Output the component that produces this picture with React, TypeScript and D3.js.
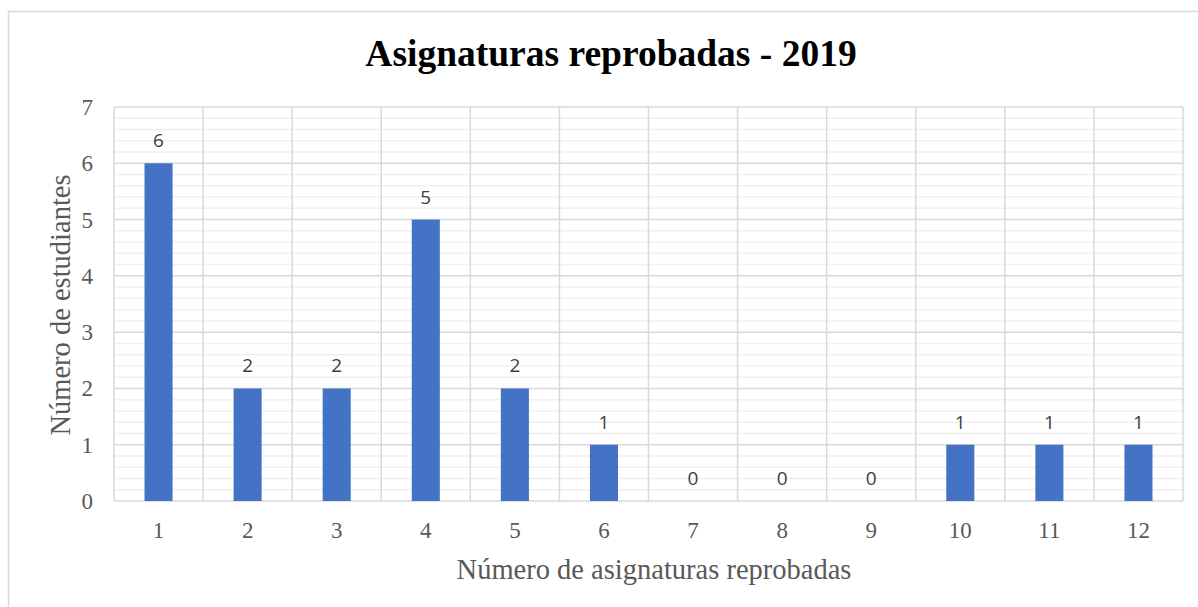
import React from "react";
import * as d3 from "d3";

const categories = ["1", "2", "3", "4", "5", "6", "7", "8", "9", "10", "11", "12"];
const values = [6, 2, 2, 5, 2, 1, 0, 0, 0, 1, 1, 1];
const yTicks = [0, 1, 2, 3, 4, 5, 6, 7];
const title = "Asignaturas reprobadas - 2019";
const xTitle = "Número de asignaturas reprobadas";
const yTitle = "Número de estudiantes";

export default function App() {
  const W = 1198, H = 607;
  const left = 114, right = 1183, top = 107, bottom = 501;
  const x = d3.scaleBand<string>().domain(categories).range([left, right]).paddingInner(0.685).paddingOuter(0.3425);
  const xOuter = d3.scaleBand<string>().domain(categories).range([left, right]);
  const y = d3.scaleLinear().domain([0, 7]).range([bottom, top]);
  const minor = d3.range(0, 7.001, 0.2).filter((v) => Math.abs(v - Math.round(v)) > 1e-6);
  const serif = "'Liberation Serif', 'Times New Roman', serif";
  const sans = "'Open Sans', 'Liberation Sans', sans-serif";
  return (
    <svg width={W} height={H} style={{ position: "absolute", left: 0, top: 0, background: "#fff" }}>
      <rect x={8.5} y={11.5} width={W + 10} height={H + 10} fill="#fff" stroke="#d9d9d9" strokeWidth={1.5} />
      <text x={611} y={66} textAnchor="middle" fontFamily={serif} fontWeight="bold" fontSize={37.5} fill="#000">{title}</text>
      {minor.map((v) => (
        <line key={"m" + v} x1={left} x2={right} y1={y(v)} y2={y(v)} stroke="#f0f0f0" strokeWidth={1.5} />
      ))}
      {yTicks.map((v) => (
        <line key={"g" + v} x1={left} x2={right} y1={y(v)} y2={y(v)} stroke="#d9d9d9" strokeWidth={1.5} />
      ))}
      {categories.map((c) => (
        <line key={"v" + c} x1={xOuter(c)!} x2={xOuter(c)!} y1={top} y2={bottom} stroke="#d9d9d9" strokeWidth={1.5} />
      ))}
      <line x1={right} x2={right} y1={top} y2={bottom} stroke="#d9d9d9" strokeWidth={1.5} />
      {categories.map((c, i) => (
        <rect key={"b" + c} x={x(c)!} y={y(values[i])} width={x.bandwidth()} height={y(0) - y(values[i])} fill="#4472C4" />
      ))}
      {categories.map((c, i) => (
        <text key={"l" + c} x={x(c)! + x.bandwidth() / 2} y={y(values[i]) - 16} textAnchor="middle" fontFamily={sans} fontSize={19} fill="#404040">{values[i]}</text>
      ))}
      {categories.map((c) => (
        <text key={"t" + c} x={xOuter(c)! + xOuter.bandwidth() / 2} y={538} textAnchor="middle" fontFamily={serif} fontSize={23} fill="#595959">{c}</text>
      ))}
      {yTicks.map((v) => (
        <text key={"yt" + v} x={93} y={y(v) + 8} textAnchor="end" fontFamily={serif} fontSize={23} fill="#595959">{v}</text>
      ))}
      <text x={654} y={579} textAnchor="middle" fontFamily={serif} fontSize={28.5} fill="#595959">{xTitle}</text>
      <text transform={`translate(70,305) rotate(-90)`} textAnchor="middle" fontFamily={serif} fontSize={28.5} fill="#595959">{yTitle}</text>
    </svg>
  );
}
